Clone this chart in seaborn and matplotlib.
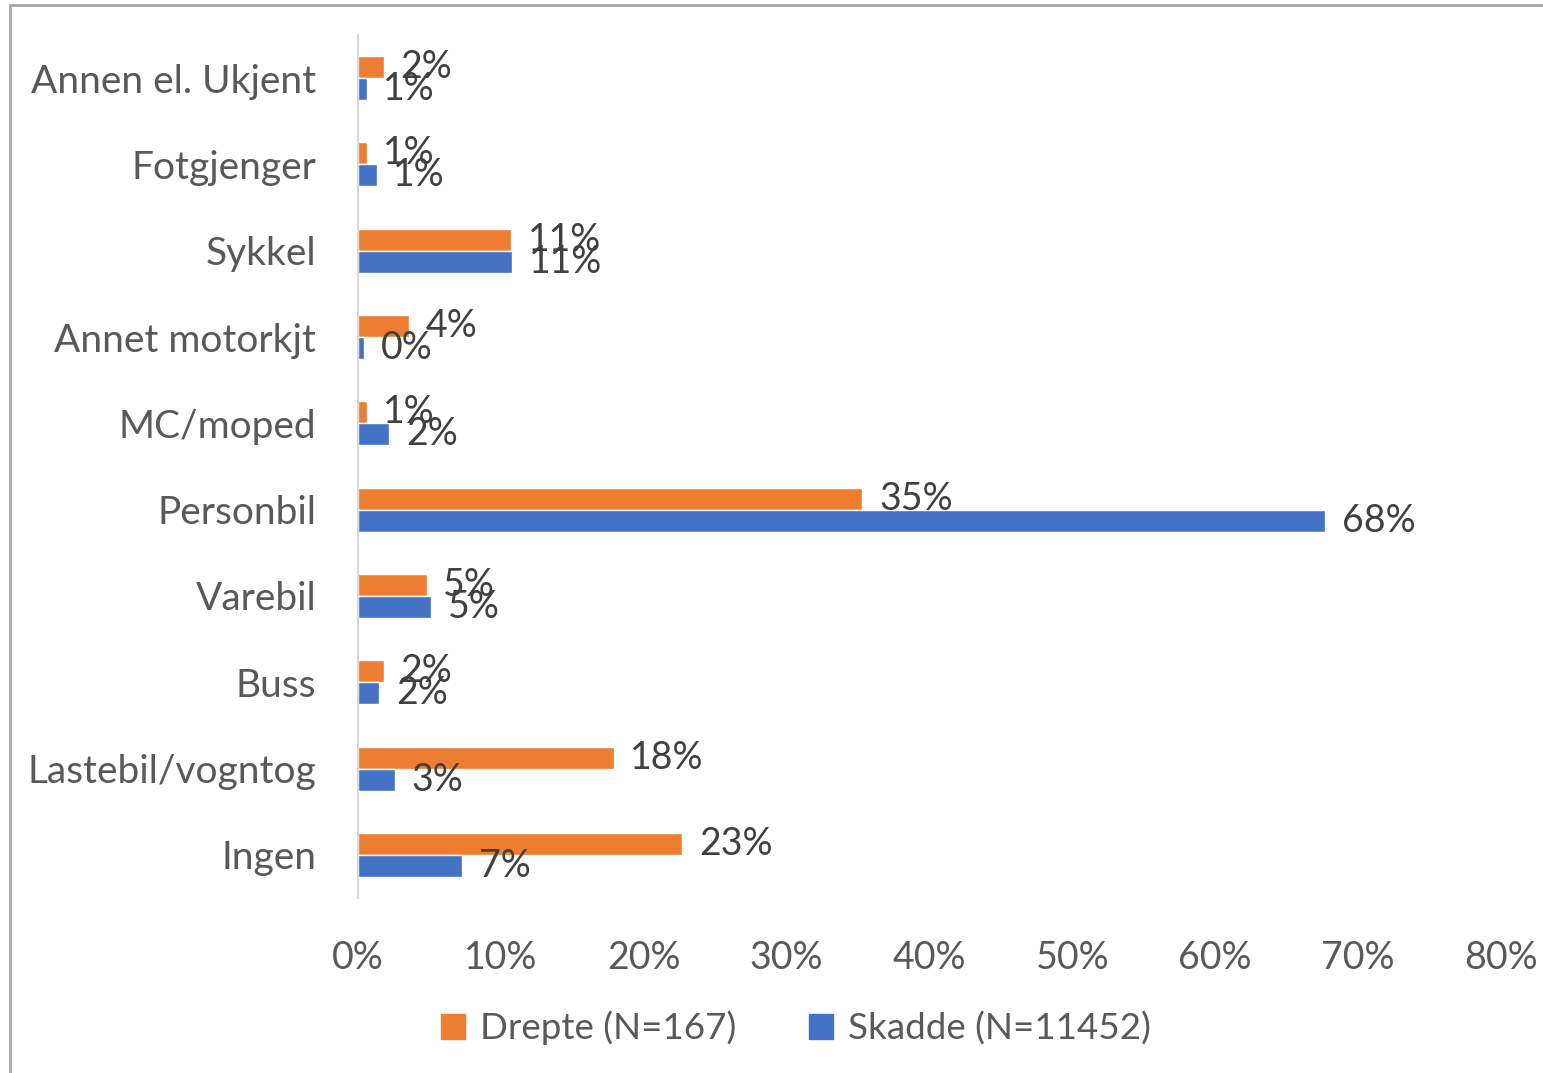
import numpy as np
import pandas as pd
import matplotlib
matplotlib.use('Agg')
import matplotlib.pyplot as plt
from matplotlib.lines import Line2D
from matplotlib.ticker import FuncFormatter
import seaborn as sns

# data (percent)
kategorier = ['Annen el. Ukjent', 'Fotgjenger', 'Sykkel', 'Annet motorkjt', 'MC/moped',
              'Personbil', 'Varebil', 'Buss', 'Lastebil/vogntog', 'Ingen']
drepte = [1.8, 0.6, 10.7, 3.6, 0.6, 35.3, 4.8, 1.8, 17.9, 22.7]
skadde = [0.6, 1.3, 10.8, 0.4, 2.2, 67.7, 5.1, 1.5, 2.6, 7.3]
serier = ['Drepte (N=167)', 'Skadde (N=11452)']
x_ticks = [0, 10, 20, 30, 40, 50, 60, 70, 80]

df = pd.DataFrame({'kategori': kategorier * 2,
                   'andel': drepte + skadde,
                   'serie': [serier[0]] * len(kategorier) + [serier[1]] * len(kategorier)})

sns.set_style('white')
plt.rcParams['font.family'] = ['Lato', 'DejaVu Sans']

fig = plt.figure(figsize=(15.43, 10.73), dpi=100)
ax = fig.add_axes([358/1543, 1-898/1073, (1501-358)/1543, (898-35)/1073])

sns.barplot(data=df, y='kategori', x='andel', hue='serie', order=kategorier,
            hue_order=serier, palette=['#ED7D31', '#4472C4'], width=0.51,
            saturation=1, orient='h', ax=ax, legend=False)

for cont in ax.containers:
    ax.bar_label(cont, fmt='%.0f%%', padding=12, fontsize=27, color='#404040')

ax.set_xlim(0, 80)
ax.set_xticks(x_ticks)
ax.xaxis.set_major_formatter(FuncFormatter(lambda v, p: f'{v:.0f}%'))
ax.set_xlabel('')
ax.set_ylabel('')
ax.tick_params(axis='x', labelsize=27, colors='#595959', length=0, pad=30)
ax.tick_params(axis='y', labelsize=28, colors='#595959', length=0, pad=30)
for s in ['top', 'right', 'bottom']:
    ax.spines[s].set_visible(False)
ax.spines['left'].set_color('#d9d9d9')
ax.spines['left'].set_linewidth(1.5)

handles = [plt.Rectangle((0, 0), 1, 1, color=c) for c in ['#ED7D31', '#4472C4']]
leg = fig.legend(handles, serier, loc='center', bbox_to_anchor=(796/1543, 1-1028/1073),
                 ncol=2, frameon=False, fontsize=26.5, handlelength=0.65, handleheight=0.65,
                 handletextpad=0.4, columnspacing=2.0)
for t in leg.get_texts():
    t.set_color('#595959')

# chart frame
fig.add_artist(Line2D([10/1543, 10/1543], [0, 1-5/1073], color='#a6a6a6', lw=2,
                      transform=fig.transFigure))
fig.add_artist(Line2D([10/1543, 1], [1-5/1073, 1-5/1073], color='#a6a6a6', lw=2,
                      transform=fig.transFigure))

plt.savefig('out.png', dpi=100)
